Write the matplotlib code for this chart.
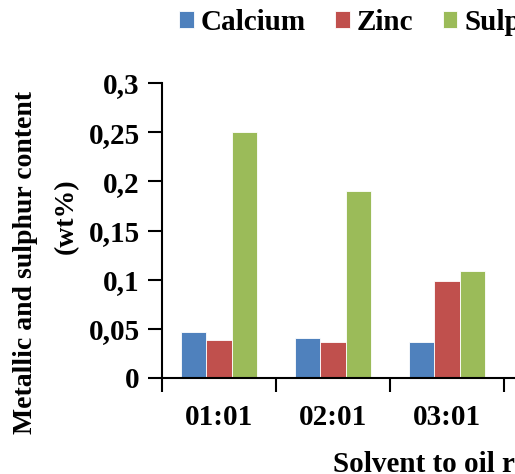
import numpy as np
import matplotlib
matplotlib.use("Agg")
import matplotlib.pyplot as plt
from matplotlib.patches import Patch

categories = ["01:01", "02:01", "03:01"]
calcium = [0.047, 0.041, 0.037]
zinc = [0.039, 0.037, 0.099]
sulphur = [0.25, 0.19, 0.109]
series = ["Calcium", "Zinc", "Sulphur"]
colors = ["#4F81BD", "#C0504D", "#9BBB59"]
yticks = [0, 0.05, 0.1, 0.15, 0.2, 0.25, 0.3]
ytick_labels = ["0", "0,05", "0,1", "0,15", "0,2", "0,25", "0,3"]

plt.rcParams["font.family"] = ["Liberation Serif", "DejaVu Serif"]
plt.rcParams["font.weight"] = "bold"
FS = 21

W, H = 515, 474
fig = plt.figure(figsize=(W / 100, H / 100), dpi=100)
# the original chart is cropped on the right: axes run past the figure edge
n_slots = 5
ax = fig.add_axes([162 / W, (H - 378) / H, n_slots * 114 / W, 295 / H])

x = np.arange(len(categories))
bw = 0.22
for j, (vals, c) in enumerate(zip([calcium, zinc, sulphur], colors)):
    ax.bar(x + (j - 1) * bw, vals, width=bw, color=c, edgecolor="white",
           linewidth=0.6, zorder=2)

ax.set_xlim(-0.5, n_slots - 0.5)
ax.set_ylim(0, 0.3)
ax.set_yticks(yticks)
ax.set_yticklabels(ytick_labels, fontsize=FS, fontweight="bold")
ax.set_xticks(np.arange(n_slots + 1) - 0.5)
ax.set_xticklabels([])
ax.set_xticks(x, minor=True)
ax.set_xticklabels(categories, minor=True, fontsize=FS, fontweight="bold")
ax.tick_params(axis="x", which="minor", length=0, pad=19)
ax.tick_params(axis="both", which="major", length=10, width=1.5,
               direction="out", color="black")
ax.tick_params(axis="y", pad=6)

for s in ["top", "right"]:
    ax.spines[s].set_visible(False)
for s in ["left", "bottom"]:
    ax.spines[s].set_linewidth(1.5)

fig.text(333 / W, 1 - 451 / H, "Solvent to oil ratio", ha="left", va="top",
         fontsize=FS, fontweight="bold")
fig.text(26 / W, 1 - 263 / H, "Metallic and sulphur content", rotation=90,
         ha="center", va="center", fontsize=20, fontweight="bold")
fig.text(66 / W, 1 - 216 / H, "(wt%)", rotation=90,
         ha="center", va="center", fontsize=20, fontweight="bold")

handles = [Patch(facecolor=c, edgecolor="white", linewidth=0.6) for c in colors]
fig.legend(handles, series, loc="upper left", bbox_to_anchor=(179 / W, 1 - 9 / H),
           ncol=3, frameon=False, borderpad=0, borderaxespad=0,
           handlelength=0.5, handleheight=0.5, handletextpad=0.25,
           columnspacing=1.0, prop={"size": FS, "weight": "bold"})

fig.savefig("out.png", dpi=100)
